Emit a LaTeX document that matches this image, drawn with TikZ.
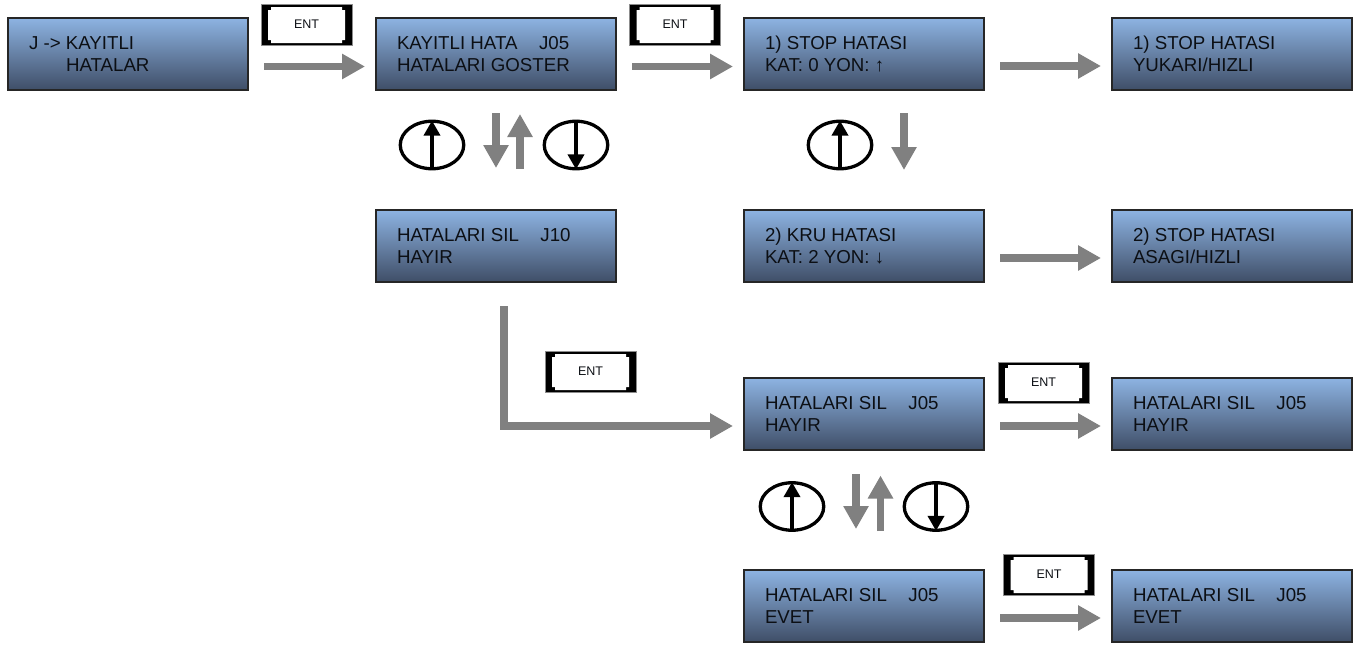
\documentclass[tikz,border=0pt]{standalone}
\usepackage{fontspec}
\setmainfont{Liberation Sans}
\usetikzlibrary{arrows.meta,shapes.geometric,calc}
\definecolor{flowgray}{HTML}{808080}
\definecolor{topblue}{HTML}{8DB3E2}
\definecolor{botblue}{HTML}{3F4E67}
\definecolor{inktext}{HTML}{0C0F14}
\tikzset{
 x=1pt,y=-1pt,
 screen/.style={rectangle,draw=black!85,line width=1.5pt,top color=topblue,bottom color=botblue,minimum width=240pt,minimum height=72pt,inner sep=0pt,text=inktext,font=\fontsize{18.7pt}{21.5pt}\selectfont},
 flow/.style={draw=flowgray,line width=7.5pt,-{Triangle[length=23pt,width=24pt]}},
 entbtn/.style={rectangle,fill=black,draw=black!45,line width=.7pt,minimum width=91pt,minimum height=41pt,inner sep=0pt,text=inktext,font=\fontsize{12.5pt}{14pt}\selectfont,
  path picture={\fill[white] ($(path picture bounding box.north west)+(7,3)$) ++(3,0) -- ++(71,0) -- ++(0,3) -- ++(3,0) -- ++(0,30) -- ++(-3,0) -- ++(0,3) -- ++(-71,0) -- ++(0,-3) -- ++(-3,0) -- ++(0,-30) -- ++(3,0) -- cycle;}},
 keyring/.style={ellipse,draw=black,line width=3.3pt,minimum width=63.5pt,minimum height=47.5pt,inner sep=0pt},
 keyarrow/.style={draw=black,line width=3.6pt,-{Triangle[length=15pt,width=16pt]},shorten >=1pt,shorten <=0pt},
}
\newcommand{\scr}[5]{\node[screen] (#1) at (#2+120,#3+36) {\raisebox{3.5pt}{\parbox[c]{198pt}{#4\\#5}}};}
\newcommand{\hflow}[3]{\coordinate (#1a) at (#3,#2); \coordinate (#1b) at (#3+101,#2); \draw[flow] (#1a) -- (#1b);}
\begin{document}
\begin{tikzpicture}
\useasboundingbox (0,0) rectangle (1360,645);
\scr{s1}{8}{18}{J -> KAYITLI}{\hspace*{37pt}HATALAR}
\scr{s2}{376}{18}{KAYITLI HATA\hspace{21.5pt}J05}{HATALARI GOSTER}
\scr{s3}{744}{18}{1) STOP HATASI}{KAT: 0 YON: ↑}
\scr{s4}{1112}{18}{1) STOP HATASI}{YUKARI/HIZLI}
\scr{s5}{376}{210}{HATALARI SIL\hspace{21.5pt}J10}{HAYIR}
\scr{s6}{744}{210}{2) KRU HATASI}{KAT: 2 YON: ↓}
\scr{s7}{1112}{210}{2) STOP HATASI}{ASAGI/HIZLI}
\scr{s8}{744}{378}{HATALARI SIL\hspace{21.5pt}J05}{HAYIR}
\scr{s9}{1112}{378}{HATALARI SIL\hspace{21.5pt}J05}{HAYIR}
\scr{s10}{744}{570}{HATALARI SIL\hspace{21.5pt}J05}{EVET}
\scr{s11}{1112}{570}{HATALARI SIL\hspace{21.5pt}J05}{EVET}
\node[entbtn] (e1) at (306.5,24.5) {ENT};
\node[entbtn] (e2) at (675,24.5) {ENT};
\node[entbtn] (e3) at (590.5,371.5) {ENT};
\node[entbtn] (e4) at (1043.5,382.5) {ENT};
\node[entbtn] (e5) at (1049,574.5) {ENT};
\hflow{a}{66.5}{264}
\hflow{b}{66.5}{632}
\hflow{c}{66}{1000}
\hflow{d}{258}{1000}
\hflow{f}{426}{1000}
\hflow{g}{618}{1000}
\coordinate (v1a) at (496,113); \coordinate (v1b) at (496,168); \draw[flow] (v1a) -- (v1b);
\coordinate (v2a) at (520,169); \coordinate (v2b) at (520,114); \draw[flow] (v2a) -- (v2b);
\coordinate (v3a) at (904,113); \coordinate (v3b) at (904,170); \draw[flow] (v3a) -- (v3b);
\coordinate (v4a) at (856,474); \coordinate (v4b) at (856,529); \draw[flow] (v4a) -- (v4b);
\coordinate (v5a) at (880.5,531); \coordinate (v5b) at (880.5,475.5); \draw[flow] (v5a) -- (v5b);
\coordinate (la) at (504,306); \coordinate (lc) at (504,426); \coordinate (lb) at (733,426);
\draw[flow] (la) -- (lc) -- (lb);
\node[keyring] (k1) at (432,145) {}; \draw[keyarrow] (k1.south) -- (k1.north);
\node[keyring] (k2) at (576,145) {}; \draw[keyarrow] (k2.north) -- (k2.south);
\node[keyring] (k3) at (840,145) {}; \draw[keyarrow] (k3.south) -- (k3.north);
\node[keyring] (k4) at (792,506.5) {}; \draw[keyarrow] (k4.south) -- (k4.north);
\node[keyring] (k5) at (936,506.5) {}; \draw[keyarrow] (k5.north) -- (k5.south);
\end{tikzpicture}
\end{document}
